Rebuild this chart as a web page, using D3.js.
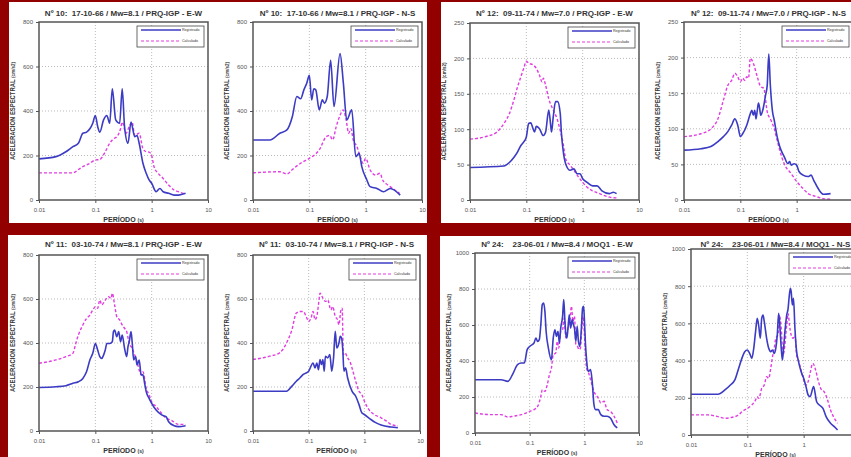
<!DOCTYPE html>
<html>
<head>
<meta charset="utf-8">
<script src="https://cdn.jsdelivr.net/npm/d3@7"></script>
<style>
  body { margin: 0; background: #930000; }
  svg { display: block; font-family: "Liberation Sans", Arial, sans-serif; }
</style>
</head>
<body>
<svg id="fig" width="851" height="457"></svg>
<script>
/* Data */
var titles = [
  "N\u00BA 10:  17-10-66 / Mw=8.1 / PRQ-IGP - E-W",
  "N\u00BA 10:  17-10-66 / Mw=8.1 / PRQ-IGP - N-S",
  "N\u00BA 12:  09-11-74 / Mw=7.0 / PRQ-IGP - E-W",
  "N\u00BA 12:  09-11-74 / Mw=7.0 / PRQ-IGP - N-S",
  "N\u00BA 11:  03-10-74 / Mw=8.1 / PRQ-IGP - E-W",
  "N\u00BA 11:  03-10-74 / Mw=8.1 / PRQ-IGP - N-S",
  "N\u00BA 24:    23-06-01 / Mw=8.4 / MOQ1 - E-W",
  "N\u00BA 24:    23-06-01 / Mw=8.4 / MOQ1 - N-S"
];
var yMaxes = [800, 800, 250, 250, 800, 800, 1000, 1000];
var yTicks800 = [0, 200, 400, 600, 800];
var yTicks250 = [0, 50, 100, 150, 200, 250];
var yTicks1000 = [0, 200, 400, 600, 800, 1000];
var xTicks = [0.01, 0.1, 1, 10];
var xTickLabels = ["0.01", "0.1", "1", "10"];
var legendLabels = ["Registrado", "Calculado"];

// Nº 10 E-W  [periodo (s), aceleracion (cm/s2)]
var reg10ew = [[0.01,185],[0.02,195],[0.03,217],[0.04,240],[0.05,255],[0.06,300],[0.07,305],[0.08,320],[0.09,345],[0.1,380],[0.11,330],[0.12,305],[0.14,360],[0.16,380],[0.18,345],[0.2,500],[0.23,360],[0.27,345],[0.3,500],[0.33,330],[0.38,255],[0.43,350],[0.5,285],[0.55,290],[0.6,255],[0.7,165],[0.8,120],[0.9,90],[1.0,75],[1.2,37],[1.4,52],[1.6,37],[2.0,30],[2.5,22],[3,22],[4,30]];
var cal10ew = [[0.01,122],[0.04,122],[0.05,137],[0.06,150],[0.08,165],[0.1,180],[0.12,182],[0.15,217],[0.18,255],[0.2,270],[0.25,290],[0.28,320],[0.3,350],[0.35,300],[0.4,330],[0.45,350],[0.5,290],[0.6,300],[0.7,230],[0.8,217],[0.9,215],[1.0,200],[1.1,150],[1.3,120],[1.6,97],[2,67],[2.5,45],[3,37],[4,27]];
// Nº 10 N-S
var reg10ns = [[0.01,270],[0.02,270],[0.03,300],[0.04,315],[0.05,375],[0.06,465],[0.07,455],[0.08,495],[0.09,525],[0.1,560],[0.11,450],[0.12,500],[0.13,495],[0.15,405],[0.17,450],[0.185,435],[0.208,465],[0.239,628],[0.274,420],[0.351,658],[0.402,525],[0.461,360],[0.566,405],[0.667,195],[0.765,210],[0.853,150],[1.05,90],[1.2,60],[1.58,52],[2.07,37],[2.73,52],[4.1,22]];
var cal10ns = [[0.01,122],[0.03,127],[0.04,117],[0.05,137],[0.07,165],[0.1,187],[0.12,200],[0.15,225],[0.2,285],[0.23,290],[0.26,270],[0.3,330],[0.35,380],[0.4,405],[0.45,360],[0.5,300],[0.55,320],[0.6,270],[0.7,240],[0.8,195],[0.9,165],[1.0,187],[1.2,135],[1.5,112],[1.8,120],[2.0,90],[2.5,67],[3,52],[4,30]];
// Nº 12 E-W
var reg12ew = [[0.01,46],[0.04,48],[0.05,53],[0.06,60],[0.07,68],[0.08,77],[0.09,82],[0.1,89],[0.11,108],[0.12,109],[0.13,102],[0.14,96],[0.15,104],[0.17,101],[0.2,91],[0.22,96],[0.25,127],[0.27,106],[0.28,96],[0.3,117],[0.33,139],[0.36,139],[0.4,122],[0.42,94],[0.45,70],[0.5,51],[0.6,42],[0.7,44],[0.8,37],[0.9,37],[1.0,30],[1.2,25],[1.5,20],[1.8,20],[2.2,13],[3,9],[3.5,11],[4,9]];
var cal12ew = [[0.01,86],[0.02,90],[0.03,96],[0.04,108],[0.05,122],[0.06,141],[0.07,160],[0.08,174],[0.09,186],[0.1,196],[0.11,193],[0.13,191],[0.15,186],[0.17,177],[0.19,167],[0.2,172],[0.22,162],[0.25,143],[0.3,127],[0.35,115],[0.4,98],[0.45,80],[0.5,58],[0.6,49],[0.7,42],[0.8,35],[1.0,25],[1.2,18],[1.5,13],[2,9],[3,4],[4,3]];
// Nº 12 N-S
var reg12ns = [[0.01,70],[0.02,72],[0.03,75],[0.04,82],[0.05,89],[0.06,96],[0.07,105],[0.08,114],[0.09,105],[0.1,89],[0.11,93],[0.13,105],[0.15,121],[0.16,126],[0.17,119],[0.18,126],[0.19,114],[0.2,126],[0.21,136],[0.22,129],[0.23,119],[0.25,126],[0.28,147],[0.3,161],[0.32,205],[0.34,163],[0.37,126],[0.4,112],[0.45,89],[0.5,75],[0.6,61],[0.7,51],[0.75,54],[0.8,49],[0.9,51],[1.0,49],[1.1,40],[1.3,35],[1.6,33],[1.8,35],[2.0,28],[2.5,14],[3,8],[4,9]];
var cal12ns = [[0.01,89],[0.02,93],[0.03,100],[0.04,114],[0.05,140],[0.06,161],[0.07,168],[0.08,178],[0.09,173],[0.1,166],[0.11,171],[0.12,168],[0.13,173],[0.14,171],[0.15,199],[0.17,192],[0.2,173],[0.23,159],[0.26,157],[0.3,124],[0.35,112],[0.4,100],[0.45,84],[0.5,70],[0.6,51],[0.8,37],[1.0,26],[1.3,16],[1.6,9],[2,6],[3,2],[4,1]];
// Nº 11 E-W
var reg11ew = [[0.01,198],[0.02,201],[0.03,206],[0.04,217],[0.05,224],[0.06,239],[0.07,270],[0.08,323],[0.09,353],[0.1,398],[0.11,368],[0.12,338],[0.13,330],[0.14,345],[0.15,368],[0.16,398],[0.18,398],[0.2,406],[0.21,452],[0.22,459],[0.24,429],[0.26,452],[0.28,406],[0.3,436],[0.33,376],[0.36,338],[0.38,383],[0.4,406],[0.43,452],[0.45,406],[0.48,323],[0.52,338],[0.55,300],[0.6,323],[0.65,255],[0.7,255],[0.75,217],[0.8,179],[0.9,148],[1.0,126],[1.2,95],[1.5,73],[1.8,65],[2.0,42],[2.5,24],[3,20],[4,24]];
var cal11ew = [[0.01,308],[0.02,323],[0.03,338],[0.04,353],[0.045,398],[0.05,436],[0.06,482],[0.07,512],[0.08,527],[0.09,550],[0.1,565],[0.11,558],[0.12,595],[0.13,573],[0.15,595],[0.17,611],[0.19,603],[0.2,626],[0.22,573],[0.24,520],[0.27,505],[0.3,482],[0.33,467],[0.36,452],[0.4,398],[0.45,376],[0.5,345],[0.55,315],[0.6,277],[0.65,255],[0.7,270],[0.8,194],[0.9,164],[1.0,133],[1.2,111],[1.5,80],[1.8,58],[2.2,50],[3,30],[4,30]];
// Nº 11 N-S
var reg11ns = [[0.01,181],[0.04,181],[0.05,204],[0.06,226],[0.07,242],[0.08,257],[0.1,272],[0.12,309],[0.13,287],[0.14,309],[0.15,279],[0.16,325],[0.17,302],[0.18,325],[0.19,272],[0.2,340],[0.22,332],[0.24,347],[0.26,272],[0.28,332],[0.3,453],[0.32,377],[0.35,400],[0.37,430],[0.39,423],[0.41,370],[0.43,272],[0.46,287],[0.5,242],[0.6,181],[0.7,158],[0.8,121],[0.9,83],[1.0,75],[1.3,53],[1.6,38],[2,27],[3,18],[4,15]];
var cal11ns = [[0.01,325],[0.02,340],[0.03,355],[0.04,400],[0.05,460],[0.06,536],[0.07,543],[0.08,543],[0.09,521],[0.1,498],[0.11,513],[0.12,543],[0.13,506],[0.14,521],[0.15,574],[0.16,626],[0.18,604],[0.2,589],[0.22,596],[0.25,551],[0.27,566],[0.3,521],[0.33,506],[0.35,483],[0.38,551],[0.4,558],[0.42,347],[0.45,355],[0.5,332],[0.55,317],[0.6,287],[0.7,226],[0.8,181],[0.9,166],[1.0,136],[1.2,98],[1.5,75],[2,60],[2.5,45],[3,30],[4,23]];
// Nº 24 E-W
var reg24ew = [[0.01,296],[0.03,296],[0.04,287],[0.05,333],[0.06,380],[0.07,389],[0.08,389],[0.09,463],[0.1,481],[0.12,500],[0.13,528],[0.14,509],[0.15,519],[0.16,602],[0.17,713],[0.18,722],[0.19,676],[0.2,565],[0.22,472],[0.25,407],[0.27,528],[0.29,574],[0.31,537],[0.33,565],[0.35,500],[0.37,583],[0.4,648],[0.42,741],[0.44,630],[0.46,546],[0.48,528],[0.5,574],[0.53,657],[0.56,583],[0.6,630],[0.63,602],[0.66,583],[0.7,509],[0.74,593],[0.78,509],[0.83,481],[0.88,574],[0.93,694],[0.97,704],[1.0,639],[1.05,491],[1.1,407],[1.15,352],[1.2,343],[1.3,352],[1.4,278],[1.5,157],[1.6,130],[1.8,130],[2.0,102],[2.3,93],[2.6,93],[3,83],[3.5,46],[4,28]];
var cal24ew = [[0.01,111],[0.02,102],[0.03,102],[0.04,89],[0.05,93],[0.07,102],[0.1,120],[0.12,130],[0.14,148],[0.16,204],[0.17,241],[0.19,231],[0.21,269],[0.23,324],[0.25,361],[0.27,435],[0.3,444],[0.32,509],[0.34,472],[0.37,565],[0.4,574],[0.43,639],[0.46,528],[0.5,583],[0.55,639],[0.58,704],[0.62,620],[0.66,648],[0.7,491],[0.75,481],[0.8,463],[0.85,472],[0.9,583],[0.95,648],[1.0,556],[1.05,435],[1.1,361],[1.2,333],[1.3,296],[1.5,231],[1.8,194],[2.0,167],[2.3,176],[2.6,130],[3,120],[3.5,93],[4,56]];
// Nº 24 N-S
var reg24ns = [[0.01,219],[0.03,219],[0.04,242],[0.05,269],[0.06,296],[0.07,358],[0.08,412],[0.09,448],[0.1,457],[0.11,439],[0.12,412],[0.13,466],[0.14,556],[0.15,627],[0.16,582],[0.17,520],[0.18,627],[0.19,645],[0.2,609],[0.22,520],[0.24,466],[0.26,448],[0.28,457],[0.3,439],[0.32,466],[0.34,538],[0.36,654],[0.38,573],[0.4,466],[0.42,403],[0.44,466],[0.47,573],[0.5,645],[0.53,681],[0.55,735],[0.58,789],[0.6,771],[0.63,699],[0.66,735],[0.7,573],[0.75,448],[0.8,403],[0.9,341],[1.0,305],[1.1,260],[1.2,215],[1.3,206],[1.5,260],[1.7,179],[1.9,161],[2.2,143],[2.5,99],[3,63],[3.5,45],[4,27]];
var cal24ns = [[0.01,108],[0.02,108],[0.03,99],[0.04,90],[0.05,93],[0.07,108],[0.08,125],[0.1,143],[0.12,161],[0.14,188],[0.15,206],[0.16,197],[0.18,251],[0.2,269],[0.22,314],[0.24,305],[0.26,358],[0.28,421],[0.3,466],[0.32,520],[0.35,538],[0.37,645],[0.4,573],[0.43,430],[0.46,475],[0.5,591],[0.53,654],[0.56,591],[0.6,538],[0.65,520],[0.7,538],[0.75,430],[0.8,403],[0.9,349],[1.0,296],[1.1,269],[1.2,287],[1.3,332],[1.45,385],[1.6,358],[1.8,296],[2.0,251],[2.3,233],[2.6,197],[3,134],[3.5,90],[4,63]];

var registrado = [reg10ew, reg10ns, reg12ew, reg12ns, reg11ew, reg11ns, reg24ew, reg24ns];
var calculado = [cal10ew, cal10ns, cal12ew, cal12ns, cal11ew, cal11ns, cal24ew, cal24ns];
var yTickSets = [yTicks800, yTicks800, yTicks250, yTicks250, yTicks800, yTicks800, yTicks1000, yTicks1000];

/* Layout */
var W = 851;
var panels = [
  {x: 9, y: 2, w: 418, h: 221},
  {x: 441, y: 2, w: 410, h: 221},
  {x: 8, y: 235, w: 419, h: 222},
  {x: 440, y: 236, w: 411, h: 221}
];
var frames = [
  {x: 39, y: 22, w: 169, h: 178, ty: 16},
  {x: 253, y: 22, w: 169, h: 178, ty: 16},
  {x: 470, y: 23, w: 169, h: 177, ty: 16},
  {x: 684, y: 22, w: 169, h: 178, ty: 16},
  {x: 39, y: 255, w: 169, h: 176, ty: 247},
  {x: 253, y: 255, w: 167, h: 176, ty: 247},
  {x: 475, y: 253, w: 164, h: 180, ty: 247},
  {x: 691, y: 249, w: 169, h: 186, ty: 247}
];

var BLUE = "#3b3bc4", PINK = "#e23de2";

var svg = d3.select("svg#fig");

svg.selectAll("rect.panel")
  .data(panels)
  .enter()
  .append("rect")
  .attr("class", "panel")
  .attr("x", d => d.x).attr("y", d => d.y)
  .attr("width", d => d.w).attr("height", d => d.h)
  .attr("fill", "#fff");

function drawChart(i) {
  var f = frames[i];
  var x = d3.scaleLog().domain([0.01, 10]).range([0, f.w]);
  var y = d3.scaleLinear().domain([0, yMaxes[i]]).range([f.h, 0]);
  var g = svg.append("g").attr("transform", `translate(${f.x},${f.y})`);

  // grid
  g.selectAll("line.gx")
    .data(xTicks.slice(1, -1))
    .enter().append("line")
    .attr("x1", d => x(d)).attr("x2", d => x(d))
    .attr("y1", 0).attr("y2", f.h)
    .attr("stroke", "#bbb").attr("stroke-dasharray", "1,2");
  g.selectAll("line.gy")
    .data(yTickSets[i].slice(1, -1))
    .enter().append("line")
    .attr("y1", d => y(d)).attr("y2", d => y(d))
    .attr("x1", 0).attr("x2", f.w)
    .attr("stroke", "#bbb").attr("stroke-dasharray", "1,2");

  // axes (labels past the picture's right edge are left out, as in the original)
  var shownX = xTicks.filter(d => f.x + x(d) < W - 4);
  var ax = g.append("g").attr("transform", `translate(0,${f.h})`)
    .call(d3.axisBottom(x).tickValues(shownX)
      .tickFormat(d => xTickLabels[xTicks.indexOf(d)]).tickSize(3).tickPadding(5));
  var ay = g.append("g")
    .call(d3.axisLeft(y).tickValues(yTickSets[i]).tickFormat(d3.format("d")).tickSize(3).tickPadding(3));
  [ax, ay].forEach(a => {
    a.select(".domain").remove();
    a.selectAll("line").attr("stroke", "#555");
    a.selectAll("text").attr("fill", "#555").attr("font-size", 6).attr("font-family", "Liberation Sans, Arial, sans-serif");
  });

  // curves
  var line = d3.line()
    .x(d => x(d[0]))
    .y(d => y(d[1]))
    .curve(d3.curveMonotoneX);
  g.append("path")
    .attr("d", line(calculado[i]))
    .attr("fill", "none").attr("stroke", PINK)
    .attr("stroke-width", 1.4).attr("stroke-dasharray", "3,2");
  g.append("path")
    .attr("d", line(registrado[i]))
    .attr("fill", "none").attr("stroke", BLUE)
    .attr("stroke-width", 1.6);

  // frame
  g.append("rect")
    .attr("width", f.w).attr("height", f.h)
    .attr("fill", "none").attr("stroke", "#555").attr("stroke-width", 1.5);

  // legend
  var lg = g.append("g").attr("transform", `translate(${f.w - 71},4)`);
  lg.append("rect").attr("width", 67).attr("height", 21)
    .attr("fill", "#fff").attr("stroke", "#444").attr("stroke-width", 0.8);
  lg.selectAll("line.lg")
    .data(legendLabels)
    .enter().append("line")
    .attr("x1", 4).attr("x2", 44)
    .attr("y1", (d, k) => 4 + k * 11).attr("y2", (d, k) => 4 + k * 11)
    .attr("stroke", (d, k) => k ? PINK : BLUE)
    .attr("stroke-width", (d, k) => k ? 1.2 : 1.5)
    .attr("stroke-dasharray", (d, k) => k ? "3,2" : null);
  lg.selectAll("text")
    .data(legendLabels)
    .enter().append("text")
    .attr("x", 45).attr("y", (d, k) => 5.3 + k * 11)
    .attr("font-size", 3.6).attr("fill", "#333")
    .text(d => d);

  // titles
  svg.append("text")
    .attr("x", f.x + f.w / 2).attr("y", f.ty)
    .attr("text-anchor", "middle")
    .attr("font-size", 8).attr("font-weight", "bold").attr("fill", "#333")
    .style("white-space", "pre")
    .text(titles[i]);

  var yt = g.append("text")
    .attr("transform", `translate(-24,${f.h / 2}) rotate(-90)`)
    .attr("text-anchor", "middle")
    .attr("font-weight", "bold").attr("fill", "#333")
    .attr("textLength", 98).attr("lengthAdjust", "spacingAndGlyphs");
  yt.append("tspan").attr("font-size", 6.5).text("ACELERACION ESPECTRAL ");
  yt.append("tspan").attr("font-size", 5).text("(cm/s2)");

  var xt = g.append("text")
    .attr("x", f.w / 2).attr("y", f.h + 22)
    .attr("text-anchor", "middle")
    .attr("font-weight", "bold").attr("fill", "#333");
  xt.append("tspan").attr("font-size", 7).text("PER\u00CDODO ");
  xt.append("tspan").attr("font-size", 5).text("(s)");
}

d3.range(frames.length).forEach(drawChart);
</script>
</body>
</html>
